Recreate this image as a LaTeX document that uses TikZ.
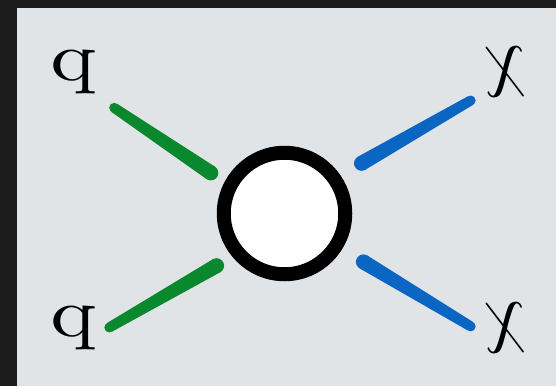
\documentclass[tikz,border=0pt]{standalone}
\usepackage{graphicx}
\usetikzlibrary{calc}
\definecolor{frame}{HTML}{1B1B1B}
\definecolor{panel}{HTML}{E1E4E7}
\definecolor{brushgreen}{HTML}{0A882D}
\definecolor{brushblue}{HTML}{0A66C2}
\tikzset{
  lbl/.style={inner sep=0pt},
  ring/.style={draw=black, line width=14pt, fill=white},
}
% tapered brush stroke: thick rounded end at #2, thinner end at #3
\newcommand\brushstroke[3]{%
  \fill[#1] ($(#2)!7.5pt!90:(#3)$) -- ($(#3)!5pt!-90:(#2)$) -- ($(#3)!5pt!90:(#2)$) -- ($(#2)!7.5pt!-90:(#3)$) -- cycle;
  \fill[#1] (#2) circle[radius=7.5pt];
  \fill[#1] (#3) circle[radius=5pt];
}
\newcommand\mirrorp{\scalebox{-8.4}[6.9]{\normalsize p}}
\newcommand\mirrorchi{\scalebox{-6.8}[8.0]{\normalsize $\chi$}}
\begin{document}
\begin{tikzpicture}[x=1pt,y=-1pt]
  \fill[frame] (0,0) rectangle (556,386);
  \fill[panel] (17,8) rectangle (556,386);
  \useasboundingbox (0,0) rectangle (556,386);

  \node[circle, ring, minimum size=121.5pt, inner sep=0pt] (c) at (284.5,213.5) {};

  \coordinate (g1a) at (210.8,172.9);
  \coordinate (g1b) at (114.2,107.8);
  \coordinate (g2a) at (216.6,265.7);
  \coordinate (g2b) at (109.3,327.5);
  \coordinate (b1a) at (361.5,163.3);
  \coordinate (b1b) at (470.6,100.5);
  \coordinate (b2a) at (363.4,261.9);
  \coordinate (b2b) at (470.7,326.4);

  \brushstroke{brushgreen}{g1a}{g1b}
  \brushstroke{brushgreen}{g2a}{g2b}
  \brushstroke{brushblue}{b1a}{b1b}
  \brushstroke{brushblue}{b2a}{b2b}

  \node[lbl] (p1) at (74,71.5) {\mirrorp};
  \node[lbl] (p2) at (74,328) {\mirrorp};
  \node[lbl] (x1) at (505,72) {\mirrorchi};
  \node[lbl] (x2) at (505,328) {\mirrorchi};
\end{tikzpicture}
\end{document}
